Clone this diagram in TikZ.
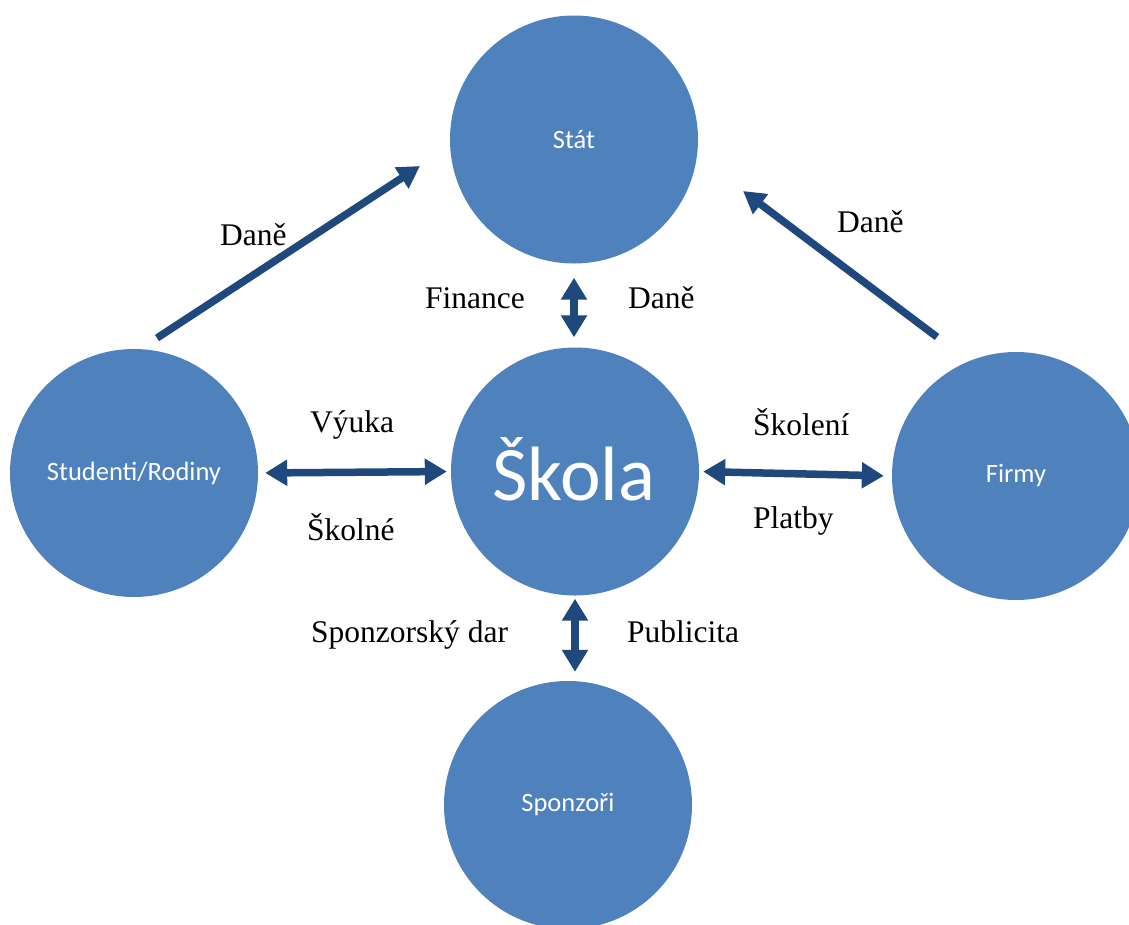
\documentclass[tikz,border=0pt]{standalone}
\usepackage{fontspec}
\setmainfont{Liberation Serif}
\newfontfamily\calibri{Carlito}
\usetikzlibrary{arrows.meta,calc}

\definecolor{bubble}{HTML}{4F81BD}
\definecolor{flow}{HTML}{1F497D}

\tikzset{
  actor/.style={circle, fill=bubble, draw=none, minimum size=248pt, inner sep=0pt,
    text=white, font=\calibri\fontsize{26.5}{30}\selectfont},
  twoway/.style={flow, line width=7.5pt,
    {Triangle[width=25pt,length=22pt]}-{Triangle[width=25pt,length=22pt]}},
  oneway/.style={flow, line width=7.5pt, -{Triangle[width=24pt,length=22pt]}},
  tag/.style={anchor=base west, inner sep=0pt, font=\fontsize{31.5}{36}\selectfont},
}

\begin{document}
\begin{tikzpicture}[x=1pt, y=-1pt]
  \useasboundingbox (0,0) rectangle (1129,924);
  \clip (0,0) rectangle (1129,924);

  % participants
  \node[actor] (stat)  at (574,139.5) {Stát};
  \node[actor] (skola) at (575,471.5) {};
  \node[font=\calibri\fontsize{77}{80}\selectfont, text=white, inner sep=0pt] (skolatxt) at (574,469) {Škola};
  \node[actor] (stud)  at (134,473)   {Studenti/Rodiny};
  \node[actor] (firmy) at (1016,476)  {Firmy};
  \node[actor] (spon)  at (568,805)   {Sponzoři};

  % two-way flows around the school
  \draw[twoway, shorten <=14pt, shorten >=10pt] (stat.south) -- (stat.south |- skola.north);
  \draw[twoway, shorten <=7pt, shorten >=4pt] (stud.east) -- (skola.west);
  \draw[twoway, shorten <=4pt, shorten >=8pt] (skola.east) -- (firmy.west);
  \draw[twoway, shorten <=3pt, shorten >=9pt] (skola.south) -- (skola.south |- spon.north);

  % taxes flowing to the state
  \coordinate (taxL0) at (157,338);
  \coordinate (taxL1) at (420,166);
  \coordinate (taxR0) at (937,337);
  \coordinate (taxR1) at (743,191);
  \draw[oneway] (taxL0) -- (taxL1);
  \draw[oneway] (taxR0) -- (taxR1);

  % flow labels
  \node[tag] (lDaneL) at (220,245) {Daně};
  \node[tag] (lDaneR) at (837,232) {Daně};
  \node[tag] (lFin)   at (425,308) {Finance};
  \node[tag] (lDaneM) at (628,308) {Daně};
  \node[tag] (lVyuka) at (310,432) {Výuka};
  \node[tag] (lSkolne) at (307,540) {Školné};
  \node[tag] (lSkoleni) at (753,435) {Školení};
  \node[tag] (lPlatby) at (753,528) {Platby};
  \node[tag] (lDar)   at (311,642) {Sponzorský dar};
  \node[tag] (lPubl)  at (627,642) {Publicita};
\end{tikzpicture}
\end{document}
